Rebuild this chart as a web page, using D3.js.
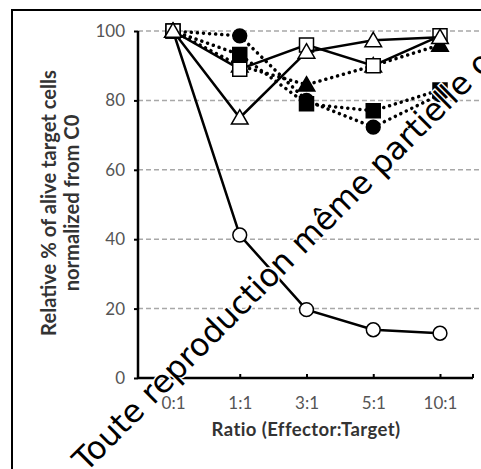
<!DOCTYPE html>
<html>
<head>
<meta charset="utf-8">
<script src="https://cdn.jsdelivr.net/npm/d3@7"></script>
<style>
  html, body { margin: 0; padding: 0; background: #fff; }
  svg { display: block; }
</style>
</head>
<body>
<svg id="chart" width="481" height="469"></svg>
<script>
const categories = ["0:1", "1:1", "3:1", "5:1", "10:1"];
const yTicks = [0, 20, 40, 60, 80, 100];

const filledCircle   = [100, 98.6, 80, 72.3, 81.7];
const filledTriangle = [100, 90, 84.5, 90, 96];
const filledSquare   = [100, 93.2, 79, 77, 83];
const openCircle     = [100, 41.2, 19.7, 13.9, 12.9];
const openSquare     = [100, 89, 96, 90, 98.6];
const openTriangle   = [100, 75, 94, 97.3, 98.2];

const series = [
  { name: "filledCircle",   values: filledCircle,   shape: "circle",   filled: true,  dotted: true },
  { name: "filledTriangle", values: filledTriangle, shape: "triangle", filled: true,  dotted: true },
  { name: "filledSquare",   values: filledSquare,   shape: "square",   filled: true,  dotted: true },
  { name: "openCircle",     values: openCircle,     shape: "circle",   filled: false, dotted: false },
  { name: "openSquare",     values: openSquare,     shape: "square",   filled: false, dotted: false },
  { name: "openTriangle",   values: openTriangle,   shape: "triangle", filled: false, dotted: false }
];

const svg = d3.select("#chart");
const FONT = "Lato, 'Open Sans', sans-serif";

const axisLeftX = 138, axisRightX = 473;
const x = d3.scalePoint().domain(categories).range([173, 440]);
const y = d3.scaleLinear().domain([0, 100]).range([378, 31]);

function fitWidth(sel, target) {
  const fs = +sel.attr("font-size");
  const w = sel.node().getComputedTextLength();
  if (w > 0) sel.attr("font-size", fs * target / w);
}

// Outer frame
svg.append("rect")
  .attr("x", 12).attr("y", 10)
  .attr("width", 500).attr("height", 500)
  .attr("fill", "none").attr("stroke", "#000").attr("stroke-width", 2);

// Gridlines
svg.append("g").selectAll("line")
  .data(yTicks.filter(d => d > 0))
  .join("line")
  .attr("x1", axisLeftX).attr("x2", 481)
  .attr("y1", d => y(d)).attr("y2", d => y(d))
  .attr("stroke", "#a8a8a8").attr("stroke-width", 1.5)
  .attr("stroke-dasharray", "5,3");

// Y axis
const yAxis = d3.axisLeft(y).tickValues(yTicks).tickSize(4).tickPadding(9);
const gy = svg.append("g").attr("transform", `translate(${axisLeftX},0)`).call(yAxis);
gy.select(".domain").remove();
gy.selectAll(".tick line").attr("stroke", "#000").attr("stroke-width", 2);
gy.selectAll(".tick text")
  .attr("font-family", FONT)
  .attr("font-size", 17).attr("fill", "#555");
svg.append("line")
  .attr("x1", axisLeftX).attr("x2", axisLeftX)
  .attr("y1", y(100)).attr("y2", y(0))
  .attr("stroke", "#000").attr("stroke-width", 2.5);

// X axis
const xAxis = d3.axisBottom(x).tickSize(-4).tickPadding(19);
const gx = svg.append("g").attr("transform", `translate(0,${y(0)})`).call(xAxis);
gx.select(".domain").remove();
gx.selectAll(".tick line").attr("stroke", "#000").attr("stroke-width", 2);
gx.selectAll(".tick text")
  .attr("font-family", FONT)
  .attr("font-size", 17).attr("fill", "#555");
svg.append("line")
  .attr("x1", axisLeftX).attr("x2", axisRightX)
  .attr("y1", y(0)).attr("y2", y(0))
  .attr("stroke", "#000").attr("stroke-width", 2.5);
svg.append("line")
  .attr("x1", axisRightX).attr("x2", axisRightX)
  .attr("y1", y(0)).attr("y2", y(0) - 4)
  .attr("stroke", "#000").attr("stroke-width", 2);

// Axis titles
const yt1 = svg.append("text")
  .attr("transform", "translate(56,203) rotate(-90)")
  .attr("text-anchor", "middle")
  .attr("font-family", FONT)
  .attr("font-weight", "bold").attr("font-size", 18).attr("fill", "#333")
  .text("Relative % of alive target cells");
fitWidth(yt1, 266);
svg.append("text")
  .attr("transform", "translate(79,203) rotate(-90)")
  .attr("text-anchor", "middle")
  .attr("font-family", FONT)
  .attr("font-weight", "bold").attr("font-size", yt1.attr("font-size")).attr("fill", "#333")
  .text("normalized from C0");
svg.append("text")
  .attr("x", 306).attr("y", 436)
  .attr("text-anchor", "middle")
  .attr("font-family", FONT)
  .attr("font-weight", "bold").attr("font-size", 18.5).attr("fill", "#333")
  .attr("letter-spacing", 0.4)
  .text("Ratio (Effector:Target)");

// Series
const line = d3.line().x((d, i) => x(categories[i])).y(d => y(d));
const symSize = { circle: 150, square: 196, triangle: 120 };
const symType = { circle: d3.symbolCircle, square: d3.symbolSquare, triangle: d3.symbolTriangle };

series.forEach(s => {
  const g = svg.append("g");
  g.append("path")
    .attr("d", line(s.values))
    .attr("fill", "none").attr("stroke", "#000")
    .attr("stroke-width", s.dotted ? 3.5 : 2.5)
    .attr("stroke-linecap", s.dotted ? "round" : "butt")
    .attr("stroke-dasharray", s.dotted ? "0.1,6" : null);
  g.selectAll("path.m")
    .data(s.values)
    .join("path")
    .attr("class", "m")
    .attr("transform", (d, i) => `translate(${x(categories[i])},${y(d) + (s.shape === "triangle" ? 1.5 : 0)})`)
    .attr("d", d3.symbol().type(symType[s.shape]).size(symSize[s.shape]))
    .attr("fill", s.filled ? "#000" : "#fff")
    .attr("stroke", "#000").attr("stroke-width", 1.5);
});

// Watermark
const wmProbe = svg.append("text")
  .attr("font-family", "'DejaVu Sans', sans-serif")
  .attr("font-size", 32)
  .text("Toute reproduction même partielle");
const wmW = wmProbe.node().getComputedTextLength();
const wmSize = 32 * 549 / wmW;
wmProbe.remove();
svg.append("text")
  .attr("transform", "translate(86,473) rotate(-45)")
  .attr("font-family", "'DejaVu Sans', sans-serif")
  .attr("font-size", wmSize).attr("fill", "#000")
  .attr("stroke", "#fff").attr("stroke-width", 3)
  .attr("paint-order", "stroke")
  .text("Toute reproduction même partielle ou totale interdite");
</script>
</body>
</html>
